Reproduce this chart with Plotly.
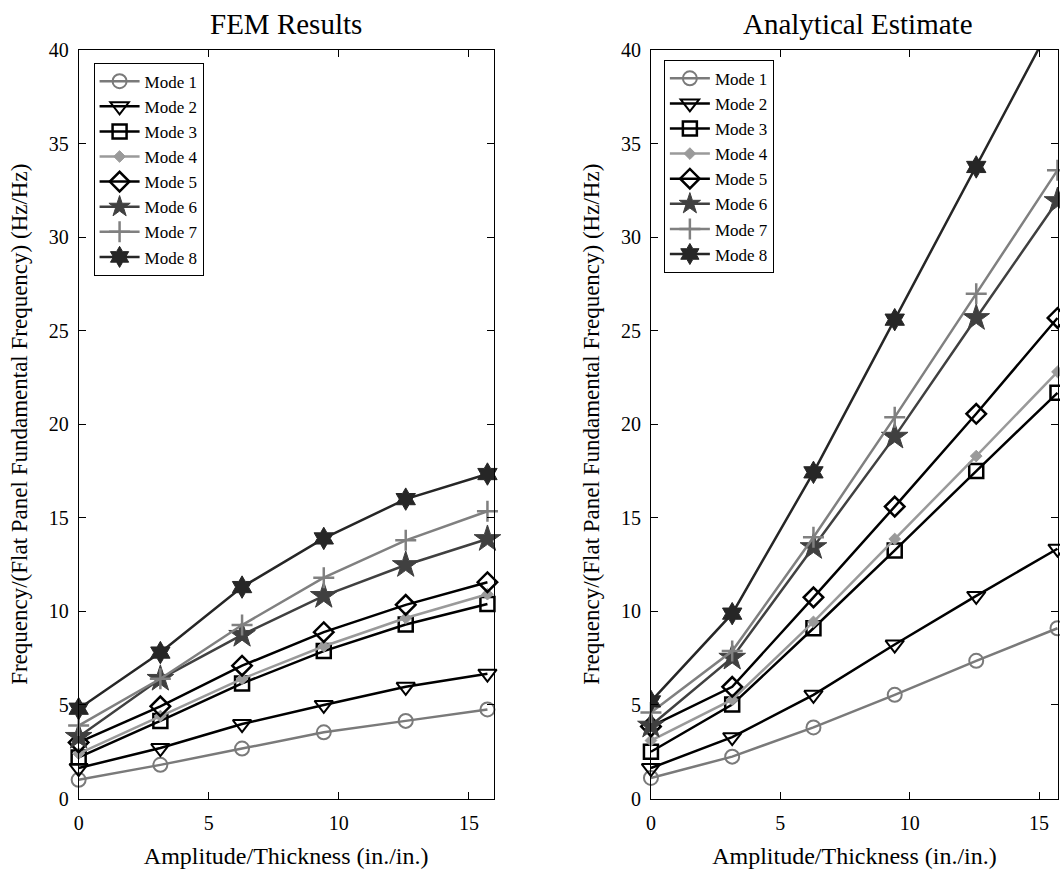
import plotly.graph_objects as go

# ---- data ----
x_vals = [0, 3.14, 6.28, 9.42, 12.57, 15.71]
mode_names = ["Mode 1", "Mode 2", "Mode 3", "Mode 4", "Mode 5", "Mode 6", "Mode 7", "Mode 8"]

fem_mode1 = [1.0, 1.8, 2.67, 3.54, 4.15, 4.76]
fem_mode2 = [1.63, 2.7, 3.98, 5.0, 5.97, 6.67]
fem_mode3 = [2.2, 4.15, 6.15, 7.88, 9.3, 10.4]
fem_mode4 = [2.4, 4.41, 6.4, 8.14, 9.65, 10.92]
fem_mode5 = [3.0, 4.93, 7.1, 8.89, 10.35, 11.56]
fem_mode6 = [3.3, 6.4, 8.75, 10.83, 12.48, 13.87]
fem_mode7 = [3.9, 6.4, 9.27, 11.8, 13.8, 15.35]
fem_mode8 = [4.8, 7.8, 11.3, 13.9, 16.0, 17.34]

ana_mode1 = [1.1, 2.24, 3.8, 5.54, 7.36, 9.1]
ana_mode2 = [1.63, 3.28, 5.54, 8.23, 10.83, 13.35]
ana_mode3 = [2.5, 5.02, 9.1, 13.26, 17.5, 21.68]
ana_mode4 = [3.1, 5.28, 9.44, 13.87, 18.3, 22.8]
ana_mode5 = [3.85, 5.97, 10.75, 15.6, 20.56, 25.68]
ana_mode6 = [3.9, 7.53, 13.44, 19.34, 25.68, 31.93]
ana_mode7 = [4.6, 7.88, 13.96, 20.38, 26.98, 33.58]
ana_mode8 = [5.19, 9.88, 17.43, 25.59, 33.75, 41.96]

fem_series = [fem_mode1, fem_mode2, fem_mode3, fem_mode4, fem_mode5, fem_mode6, fem_mode7, fem_mode8]
ana_series = [ana_mode1, ana_mode2, ana_mode3, ana_mode4, ana_mode5, ana_mode6, ana_mode7, ana_mode8]

x_ticks = [0, 5, 10, 15]
y_ticks = [0, 5, 10, 15, 20, 25, 30, 35, 40]

# ---- styles ----
FONT = "Liberation Serif"
styles = [
    dict(symbol="circle-open", color="#7a7a7a", size=14, lw=2),
    dict(symbol="triangle-down-open", color="#000000", size=16, lw=2),
    dict(symbol="square-open", color="#000000", size=14, lw=2.5),
    dict(symbol="diamond", color="#9a9a9a", size=9, lw=1),
    dict(symbol="diamond-open", color="#000000", size=15, lw=2.5),
    dict(symbol="star", color="#404040", size=20, lw=1),
    dict(symbol="cross-thin-open", color="#808080", size=15, lw=2.5),
    dict(symbol="hexagram", color="#262626", size=17, lw=1),
]

fig = go.Figure()

for panel, (series, xa, ya, leg) in enumerate([
    (fem_series, "x", "y", "legend"),
    (ana_series, "x2", "y2", "legend2"),
]):
    for i, (name, yv) in enumerate(zip(mode_names, series)):
        s = styles[i]
        fig.add_trace(go.Scatter(
            x=x_vals, y=yv, name=name, mode="lines+markers",
            xaxis=xa, yaxis=ya, legend=leg,
            line=dict(color=s["color"], width=2.5),
            marker=dict(symbol=s["symbol"], size=s["size"], color=s["color"],
                        line=dict(color=s["color"], width=s["lw"])),
            cliponaxis=(panel == 1 and i == 7),
        ))

axis_common = dict(
    showline=True, linecolor="black", linewidth=1, mirror="ticks",
    ticks="inside", ticklen=7, tickcolor="black", showgrid=False, zeroline=False,
    tickfont=dict(family=FONT, size=20, color="black"),
)

ytitle = "Frequency/(Flat Panel Fundamental Frequency) (Hz/Hz)"
xtitle = "Amplitude/Thickness (in./in.)"

W, H = 1060, 869
legend_common = dict(xanchor="left", yanchor="top", bgcolor="white", bordercolor="black",
                     borderwidth=1, itemwidth=40,
                     font=dict(family=FONT, size=17, color="black"))
fig.update_layout(
    width=W, height=H,
    margin=dict(l=0, r=0, t=0, b=0),
    paper_bgcolor="white", plot_bgcolor="white",
    font=dict(family=FONT, color="black"),
    xaxis=dict(domain=[74 / W, 491 / W], range=[0, 15.95], tickvals=x_ticks, ticklabelstandoff=6,
               anchor="y", title=dict(text=xtitle, font=dict(size=24), standoff=14), **axis_common),
    yaxis=dict(domain=[(H - 808) / H, (H - 40) / H], range=[0, 40], tickvals=y_ticks, ticklabelstandoff=5,
               anchor="x", title=dict(text=ytitle, font=dict(size=23), standoff=14), **axis_common),
    xaxis2=dict(domain=[649 / W, 1058 / W], range=[0, 15.73], tickvals=x_ticks, ticklabelstandoff=6,
                anchor="y2", title=dict(text=xtitle, font=dict(size=24), standoff=14), **axis_common),
    yaxis2=dict(domain=[(H - 808) / H, (H - 40) / H], range=[0, 40], tickvals=y_ticks, ticklabelstandoff=5,
                anchor="x2", title=dict(text=ytitle, font=dict(size=23), standoff=14), **axis_common),
    legend=dict(x=89 / W, y=(H - 53) / H, **legend_common),
    legend2=dict(x=662 / W, y=(H - 50) / H, **legend_common),
    annotations=[
        dict(text="FEM Results", x=(74 + 491) / 2 / W, y=(H - 13) / H, xref="paper", yref="paper",
             showarrow=False, xanchor="center", yanchor="middle", font=dict(family=FONT, size=29)),
        dict(text="Analytical Estimate", x=(649 + 1065) / 2 / W, y=(H - 13) / H, xref="paper", yref="paper",
             showarrow=False, xanchor="center", yanchor="middle", font=dict(family=FONT, size=29)),
    ],
)

fig.write_html("out.html", config={"displayModeBar": False},
               post_script="document.body.style.margin='0px';document.body.style.overflow='hidden';")
